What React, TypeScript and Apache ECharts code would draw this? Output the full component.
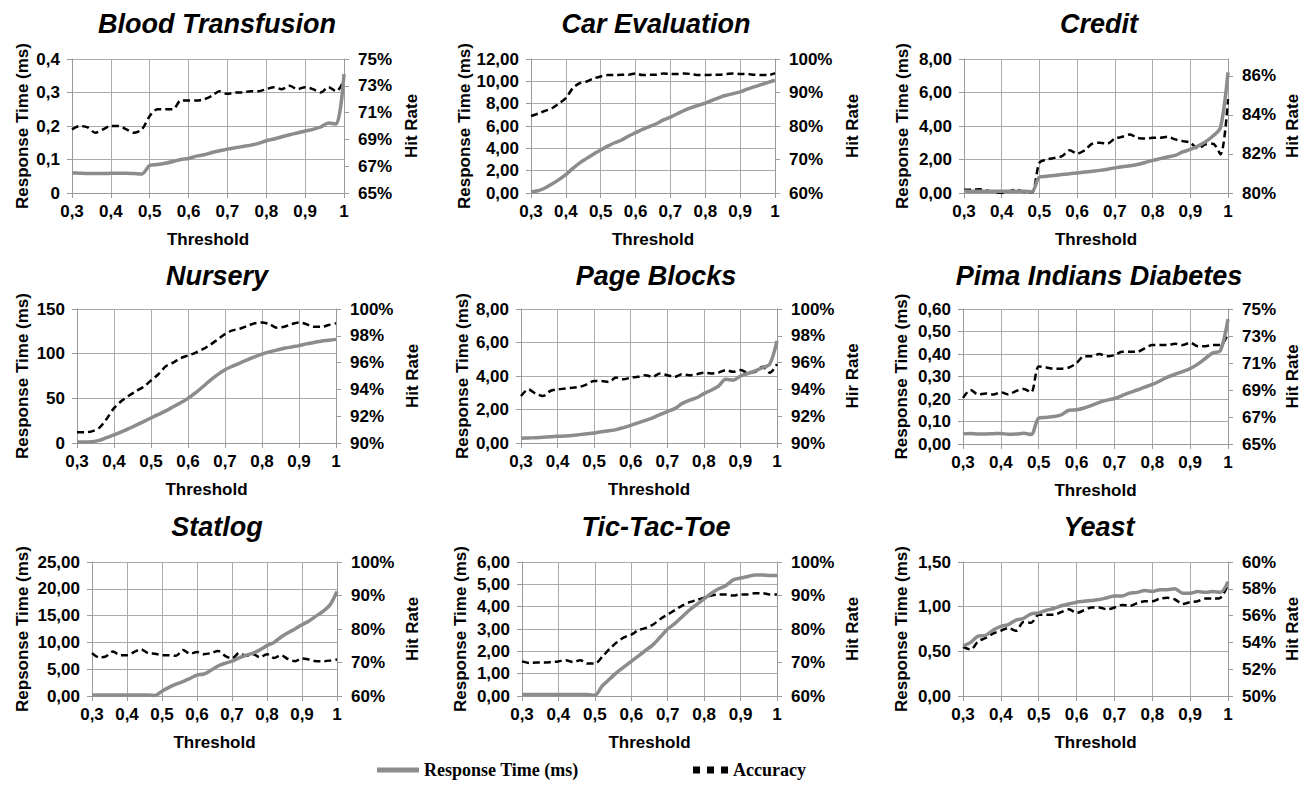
import { useEffect, useRef } from 'react';
import * as echarts from 'echarts';

const thresholds = [0.30, 0.32, 0.34, 0.36, 0.38, 0.40, 0.42, 0.44, 0.46, 0.48, 0.50, 0.52, 0.54, 0.56, 0.58, 0.60, 0.62, 0.64, 0.66, 0.68, 0.70, 0.72, 0.74, 0.76, 0.78, 0.80, 0.82, 0.84, 0.86, 0.88, 0.90, 0.92, 0.94, 0.96, 0.98, 1.00];

const titles = ['Blood Transfusion', 'Car Evaluation', 'Credit', 'Nursery', 'Page Blocks', 'Pima Indians Diabetes', 'Statlog', 'Tic-Tac-Toe', 'Yeast'];

const bloodRt = [0.060, 0.059, 0.058, 0.058, 0.058, 0.059, 0.059, 0.059, 0.058, 0.057, 0.082, 0.085, 0.089, 0.094, 0.100, 0.103, 0.110, 0.114, 0.121, 0.126, 0.131, 0.135, 0.139, 0.143, 0.148, 0.156, 0.161, 0.168, 0.174, 0.179, 0.185, 0.190, 0.197, 0.209, 0.206, 0.355];
const bloodAcc = [69.75, 70.0, 69.9, 69.5, 69.75, 70.0, 70.0, 69.75, 69.5, 69.75, 70.75, 71.25, 71.25, 71.25, 71.9, 71.9, 71.9, 72.0, 72.25, 72.6, 72.4, 72.5, 72.5, 72.6, 72.6, 72.75, 72.9, 72.75, 73.0, 72.75, 72.9, 72.75, 72.5, 72.9, 72.6, 73.4];

const carRt = [0.1, 0.2, 0.45, 0.8, 1.2, 1.65, 2.2, 2.7, 3.1, 3.5, 3.85, 4.2, 4.5, 4.75, 5.1, 5.4, 5.7, 5.95, 6.2, 6.55, 6.8, 7.1, 7.4, 7.65, 7.85, 8.05, 8.3, 8.55, 8.75, 8.9, 9.05, 9.3, 9.5, 9.7, 9.9, 10.1];
const carAcc = [83.0, 83.7, 84.5, 85.3, 86.7, 88.3, 91.3, 92.8, 93.3, 94.2, 94.8, 95.2, 95.2, 95.3, 95.3, 95.7, 95.2, 95.3, 95.3, 95.7, 95.5, 95.5, 95.7, 95.5, 95.2, 95.2, 95.3, 95.3, 95.5, 95.7, 95.5, 95.5, 95.3, 95.2, 95.2, 95.8];

const creditRt = [0.12, 0.1, 0.1, 0.1, 0.1, 0.1, 0.1, 0.1, 0.1, 0.08, 0.95, 1.0, 1.05, 1.1, 1.15, 1.2, 1.25, 1.3, 1.35, 1.42, 1.5, 1.57, 1.63, 1.7, 1.82, 1.95, 2.05, 2.15, 2.25, 2.45, 2.6, 2.8, 3.05, 3.4, 3.9, 7.2];
const creditAcc = [80.17, 80.17, 80.19, 80.13, 80.04, 80.0, 80.09, 80.17, 80.04, 80.04, 81.55, 81.72, 81.8, 81.89, 82.19, 82.02, 82.19, 82.53, 82.58, 82.53, 82.79, 82.88, 83.0, 82.83, 82.79, 82.83, 82.83, 82.88, 82.75, 82.66, 82.58, 82.28, 82.49, 82.53, 81.98, 84.81];

const nurseryRt = [1, 1, 1.5, 3, 6, 9, 12.5, 16, 20, 24, 28, 32, 36, 40.5, 45, 50, 56, 63, 70, 76.5, 82, 86, 89.5, 93, 96.5, 99.5, 102, 104, 106, 107.5, 109, 111, 112.5, 114, 115, 116];
const nurseryAcc = [90.8, 90.8, 90.87, 91.13, 91.8, 92.6, 93.13, 93.53, 93.87, 94.2, 94.67, 95.13, 95.73, 96.0, 96.33, 96.53, 96.73, 97.0, 97.33, 97.73, 98.13, 98.4, 98.53, 98.73, 98.93, 99.0, 98.87, 98.6, 98.67, 98.87, 99.0, 98.87, 98.67, 98.67, 98.8, 98.93];

const pageRt = [0.28, 0.3, 0.32, 0.35, 0.37, 0.4, 0.42, 0.45, 0.5, 0.55, 0.6, 0.67, 0.73, 0.8, 0.92, 1.05, 1.2, 1.35, 1.5, 1.7, 1.88, 2.05, 2.35, 2.55, 2.7, 2.95, 3.15, 3.4, 3.8, 3.75, 4.0, 4.15, 4.3, 4.5, 4.7, 6.1];
const pageAcc = [93.5, 94.0, 93.69, 93.5, 93.88, 94.0, 94.06, 94.13, 94.19, 94.38, 94.63, 94.63, 94.56, 94.88, 94.75, 94.88, 94.94, 95.06, 94.94, 95.19, 95.06, 94.94, 95.13, 95.06, 95.13, 95.25, 95.19, 95.25, 95.44, 95.31, 95.44, 95.25, 95.31, 95.69, 95.25, 95.88];

const pimaRt = [0.045, 0.047, 0.045, 0.045, 0.046, 0.047, 0.043, 0.044, 0.048, 0.042, 0.115, 0.118, 0.122, 0.13, 0.15, 0.152, 0.16, 0.172, 0.185, 0.195, 0.202, 0.215, 0.228, 0.24, 0.253, 0.265, 0.28, 0.297, 0.31, 0.322, 0.335, 0.355, 0.38, 0.405, 0.415, 0.555];
const pimaAcc = [68.42, 69.0, 68.67, 68.75, 68.67, 68.83, 68.67, 68.92, 69.08, 68.83, 70.75, 70.67, 70.58, 70.58, 70.67, 71.0, 71.5, 71.5, 71.67, 71.5, 71.58, 71.83, 71.83, 71.83, 72.08, 72.33, 72.33, 72.33, 72.42, 72.33, 72.5, 72.25, 72.25, 72.33, 72.33, 73.17];

const statRt = [0.2, 0.2, 0.2, 0.2, 0.2, 0.2, 0.2, 0.2, 0.2, 0.1, 0.9, 1.6, 2.2, 2.7, 3.3, 3.9, 4.1, 4.8, 5.6, 6.1, 6.5, 7.1, 7.6, 8.0, 8.6, 9.4, 10.0, 11.0, 11.8, 12.5, 13.3, 14.0, 14.9, 15.8, 17.0, 19.5];
const statAcc = [72.8, 71.52, 71.84, 73.28, 72.16, 72.16, 73.12, 73.92, 72.8, 72.64, 72.16, 72.16, 72.0, 73.76, 72.64, 73.12, 72.48, 72.8, 73.44, 72.0, 71.2, 72.8, 72.0, 72.48, 71.52, 72.48, 71.36, 72.16, 71.04, 70.4, 71.2, 70.88, 70.4, 70.4, 70.56, 70.88];

const ticRt = [0.07, 0.07, 0.07, 0.07, 0.07, 0.07, 0.07, 0.07, 0.07, 0.07, 0.03, 0.45, 0.75, 1.05, 1.3, 1.55, 1.8, 2.05, 2.3, 2.65, 3.0, 3.25, 3.55, 3.85, 4.1, 4.35, 4.6, 4.8, 4.95, 5.2, 5.28, 5.35, 5.42, 5.42, 5.4, 5.4];
const ticAcc = [70.33, 69.87, 70.0, 70.0, 70.13, 70.33, 70.67, 70.13, 70.67, 69.67, 69.67, 71.67, 74.0, 76.0, 77.5, 78.33, 79.67, 80.33, 81.33, 83.0, 84.33, 85.67, 87.0, 88.0, 88.67, 89.33, 90.0, 90.33, 90.33, 90.0, 90.33, 90.33, 90.67, 90.67, 90.33, 90.33];

const yeastRt = [0.56, 0.6, 0.67, 0.68, 0.74, 0.78, 0.8, 0.85, 0.87, 0.92, 0.93, 0.96, 0.98, 1.01, 1.03, 1.05, 1.06, 1.07, 1.08, 1.1, 1.12, 1.12, 1.15, 1.16, 1.18, 1.17, 1.19, 1.19, 1.2, 1.15, 1.15, 1.17, 1.16, 1.17, 1.16, 1.28];
const yeastAcc = [53.67, 53.47, 54.07, 54.33, 54.67, 54.87, 55.07, 54.87, 55.53, 55.47, 56.07, 56.07, 56.07, 56.27, 56.47, 56.2, 56.4, 56.6, 56.6, 56.47, 56.6, 56.8, 56.73, 56.93, 57.07, 57.07, 57.27, 57.33, 57.2, 56.87, 57.0, 57.07, 57.27, 57.27, 57.33, 58.33];

const rtSeries = [bloodRt, carRt, creditRt, nurseryRt, pageRt, pimaRt, statRt, ticRt, yeastRt];
const accSeries = [bloodAcc, carAcc, creditAcc, nurseryAcc, pageAcc, pimaAcc, statAcc, ticAcc, yeastAcc];

// left axis scale
const leftMax = [0.4, 12, 8, 150, 8, 0.6, 25, 6, 1.5];
const leftInterval = [0.1, 2, 2, 50, 2, 0.1, 5, 1, 0.5];
const leftDigits = [-1, 2, 2, 0, 2, 2, 2, 2, 2];
const leftNames = ['Response Time (ms)', 'Response Time (ms)', 'Response Time (ms)', 'Response Time (ms)', 'Response Time (ms)', 'Response Time (ms)', 'Repsonse Time (ms)', 'Response Time (ms)', 'Response Time (ms)'];
// right axis scale (percent)
const rightMin = [65, 60, 80, 90, 90, 65, 60, 60, 50];
const rightMax = [75, 100, 86.87, 100, 100, 75, 100, 100, 60];
const rightInterval = [2, 10, 2, 2, 2, 2, 10, 10, 2];
const rightNames = ['Hit Rate', 'Hit Rate', 'Hit Rate', 'Hit Rate', 'Hir Rate', 'Hit Rate', 'Hit Rate', 'Hit Rate', 'Hit Rate'];

const RT_NAME = 'Response Time (ms)';
const ACC_NAME = 'Accuracy';

// layout (px)
const gridRects = [
  [72, 59, 272, 134], [531, 59, 244, 134], [964, 59, 264, 134],
  [77, 309, 259, 134], [521, 309, 256, 134], [963, 309, 265, 135],
  [92, 562, 245, 134], [522, 562, 255, 134], [963, 562, 265, 134],
];
const titlePos = [
  [217, 10], [656, 10], [1099, 10],
  [217, 262], [656, 262], [1099, 262],
  [217, 513], [656, 513], [1099, 513],
];
const leftNameDist = [50, 64, 62, 55, 59, 62, 70, 62, 62];
const rightNameDist = [68, 78, 65, 77, 76, 65, 76, 76, 65];

const SANS = "'Liberation Sans', Arial, Helvetica, sans-serif";
const SERIF = "'Liberation Serif', 'Times New Roman', serif";
const AXIS_COLOR = '#9a9a9a';
const GRID_COLOR = '#ababab';
const RT_COLOR = '#8c8c8c';

const labelFont = { fontFamily: SANS, fontWeight: 'bold' as const, fontSize: 17, color: '#000' };

function leftFormatter(digits: number) {
  return (v: number) => {
    if (digits < 0) return v === 0 ? '0' : String(+v.toFixed(3)).replace('.', ',');
    return v.toFixed(digits).replace('.', ',');
  };
}

function buildOption() {
  const grid: any[] = [];
  const xAxis: any[] = [];
  const yAxis: any[] = [];
  const series: any[] = [];
  const title: any[] = [];

  titles.forEach((t, i) => {
    const [l, tp, w, h] = gridRects[i];
    grid.push({ left: l, top: tp, width: w, height: h, containLabel: false });
    title.push({
      text: t,
      left: titlePos[i][0],
      top: titlePos[i][1],
      textAlign: 'center',
      padding: 0,
      textStyle: { fontFamily: SANS, fontWeight: 'bold', fontStyle: 'italic', fontSize: 27, color: '#000' },
    });
    xAxis.push({
      type: 'value',
      gridIndex: i,
      min: 0.3,
      max: 1,
      interval: 0.1,
      name: 'Threshold',
      nameLocation: 'middle',
      nameGap: 38,
      nameTextStyle: labelFont,
      axisLine: { show: true, lineStyle: { color: AXIS_COLOR, width: 1 } },
      axisTick: { show: true, length: 5, lineStyle: { color: AXIS_COLOR } },
      axisLabel: {
        ...labelFont,
        margin: 10,
        formatter: (v: number) => (Math.abs(v - 1) < 1e-9 ? '1' : v.toFixed(1).replace('.', ',')),
      },
      splitLine: { show: true, lineStyle: { color: GRID_COLOR, width: 1 } },
    });
    yAxis.push({
      type: 'value',
      gridIndex: i,
      position: 'left',
      min: 0,
      max: leftMax[i],
      interval: leftInterval[i],
      name: leftNames[i],
      nameLocation: 'middle',
      nameRotate: 90,
      nameGap: leftNameDist[i] - 9,
      nameTextStyle: labelFont,
      axisLine: { show: true, lineStyle: { color: AXIS_COLOR, width: 1 } },
      axisTick: { show: true, length: 5, lineStyle: { color: AXIS_COLOR } },
      axisLabel: { ...labelFont, margin: 12, formatter: leftFormatter(leftDigits[i]) },
      splitLine: { show: true, lineStyle: { color: GRID_COLOR, width: 1 } },
    });
    yAxis.push({
      type: 'value',
      gridIndex: i,
      position: 'right',
      min: rightMin[i],
      max: rightMax[i],
      interval: rightInterval[i],
      name: rightNames[i],
      nameLocation: 'middle',
      nameRotate: 90,
      nameGap: rightNameDist[i] - 9,
      nameTextStyle: labelFont,
      axisLine: { show: true, lineStyle: { color: AXIS_COLOR, width: 1 } },
      axisTick: { show: true, length: 5, lineStyle: { color: AXIS_COLOR } },
      axisLabel: {
        ...labelFont,
        margin: 14,
        showMaxLabel: Number.isInteger((rightMax[i] - rightMin[i]) / rightInterval[i]),
        formatter: (v: number) => `${Math.round(v)}%`,
      },
      splitLine: { show: false },
    });
    series.push({
      type: 'line',
      name: RT_NAME,
      xAxisIndex: i,
      yAxisIndex: i * 2,
      data: thresholds.map((x, k) => [x, rtSeries[i][k]]),
      symbol: 'none',
      smooth: 0.3,
      lineStyle: { color: RT_COLOR, width: 3.5 },
      itemStyle: { color: RT_COLOR },
      z: 3,
    });
    series.push({
      type: 'line',
      name: ACC_NAME,
      xAxisIndex: i,
      yAxisIndex: i * 2 + 1,
      data: thresholds.map((x, k) => [x, accSeries[i][k]]),
      symbol: 'none',
      smooth: 0.3,
      lineStyle: { color: '#000', width: 2.5, type: [7, 4] },
      itemStyle: { color: '#000' },
      z: 2,
    });
  });

  const legendText = { fontFamily: SERIF, fontWeight: 'bold' as const, fontSize: 18, color: '#000' };
  return {
    animation: false,
    backgroundColor: '#fff',
    title,
    grid,
    xAxis,
    yAxis,
    series,
    legend: [
      {
        left: 377,
        top: 761,
        padding: 0,
        itemWidth: 42,
        itemHeight: 5,
        selectedMode: false,
        textStyle: legendText,
        data: [{ name: RT_NAME, icon: 'rect', itemStyle: { color: RT_COLOR } }],
      },
      {
        left: 693,
        top: 761,
        padding: 0,
        itemWidth: 35,
        itemHeight: 7,
        selectedMode: false,
        textStyle: legendText,
        data: [{ name: ACC_NAME, icon: 'path://M0,0h7v7h-7zM14,0h7v7h-7zM28,0h7v7h-7z', itemStyle: { color: '#000' } }],
      },
    ],
  };
}

export default function App() {
  const ref = useRef<HTMLDivElement>(null);
  useEffect(() => {
    if (!ref.current) return;
    const chart = echarts.init(ref.current, undefined, { renderer: 'svg' });
    chart.setOption(buildOption() as any);
    return () => chart.dispose();
  }, []);
  return (
    <div
      ref={ref}
      style={{ position: 'fixed', left: 0, top: 0, width: 1303, height: 787, background: '#fff' }}
    />
  );
}
